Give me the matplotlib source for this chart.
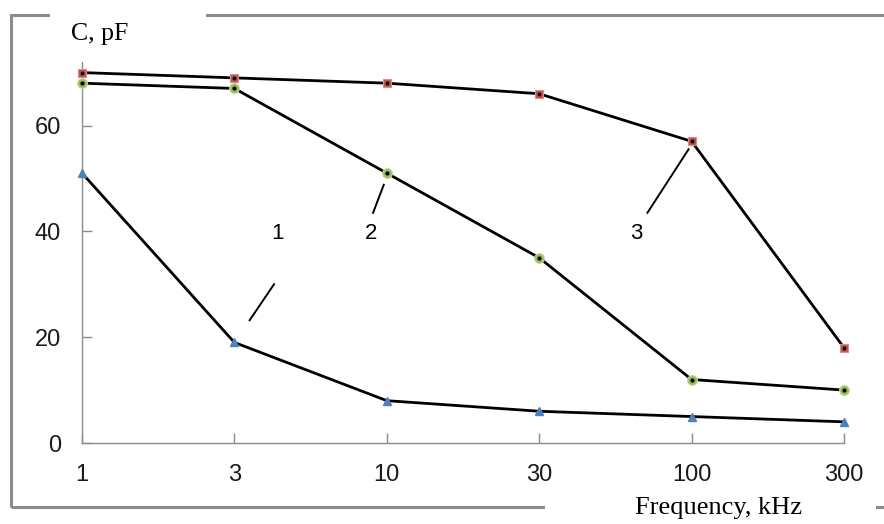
import numpy as np
import matplotlib.pyplot as plt
from matplotlib.patches import Rectangle

freq_labels = ["1", "3", "10", "30", "100", "300"]
curve1 = [51, 19, 8, 6, 5, 4]
curve2 = [68, 67, 51, 35, 12, 10]
curve3 = [70, 69, 68, 66, 57, 18]

fig = plt.figure(figsize=(8.84, 5.24), dpi=100)
W, H = 884, 524

# outer grey frame (runs off the right edge like the original)
fig.patches.append(Rectangle((11 / W, 1 - 507 / H), 1.0, (507 - 15) / H,
                             transform=fig.transFigure, fill=False,
                             edgecolor="#8c8c8c", linewidth=2.2, zorder=0))

ax = fig.add_axes([82 / W, 1 - 443 / H, (844 - 82) / W, (443 - 62) / H])
x = np.arange(len(freq_labels))

ax.plot(x, curve3, color="black", lw=2, zorder=2, clip_on=False)
ax.plot(x, curve2, color="black", lw=2, zorder=2, clip_on=False)
ax.plot(x, curve1, color="black", lw=2, zorder=2, clip_on=False)

ax.plot(x, curve3, ls="none", marker="s", ms=6, mfc="#c0504d", mec="#d98c8a",
        mew=0.8, zorder=3, clip_on=False)
ax.plot(x, curve3, ls="none", marker="o", ms=1.8, color="black", zorder=4, clip_on=False)
ax.plot(x, curve2, ls="none", marker="o", ms=7, mfc="#9bbb59", mec="#c3d69b",
        mew=0.8, zorder=3, clip_on=False)
ax.plot(x, curve2, ls="none", marker="o", ms=2, color="black", zorder=4, clip_on=False)
ax.plot(x, curve1, ls="none", marker="^", ms=6, mfc="#4f81bd", mec="#4f81bd",
        zorder=3, clip_on=False)

ax.set_xlim(0, 5)
ax.set_ylim(0, 72)
ax.set_xticks(x)
ax.set_xticklabels(freq_labels)
ax.set_yticks([0, 20, 40, 60])

for side in ["top", "right"]:
    ax.spines[side].set_visible(False)
for side in ["left", "bottom"]:
    ax.spines[side].set_color("#8c8c8c")
    ax.spines[side].set_linewidth(1.0)

ax.tick_params(axis="both", direction="in", length=7, width=1, color="#8c8c8c",
               labelsize=17, pad=15)
for lab in ax.get_xticklabels() + ax.get_yticklabels():
    lab.set_family("Liberation Sans")
    lab.set_color("#1a1a1a")

# curve numbers with leader lines
ax.text(1.28, 39.5, "1", fontsize=16, family="Liberation Sans", ha="center", va="center")
ax.plot([1.1, 1.26], [23.2, 30.0], color="black", lw=1.4)
ax.text(1.9, 39.5, "2", fontsize=16, family="Liberation Sans", ha="center", va="center")
ax.plot([1.91, 1.98], [43.5, 48.8], color="black", lw=1.4)
ax.text(3.64, 39.5, "3", fontsize=16, family="Liberation Sans", ha="center", va="center")
ax.plot([3.71, 3.98], [43.5, 55.5], color="black", lw=1.4)

# axis titles, white boxes break the grey frame
fig.patches.append(Rectangle((50 / W, 1 - 22 / H), 156 / W, 14 / H,
                             transform=fig.transFigure, facecolor="white",
                             edgecolor="none", zorder=1))
fig.text(71 / W, 1 - 34 / H, "C, pF", fontsize=18.5, family="Liberation Serif",
         ha="left", va="center")
fig.patches.append(Rectangle((545 / W, 1 - 515 / H), 331 / W, 16 / H,
                             transform=fig.transFigure, facecolor="white",
                             edgecolor="none", zorder=1))
fig.text(719 / W, 1 - 508 / H, "Frequency, kHz", fontsize=19, family="Liberation Serif",
         ha="center", va="center")

fig.savefig("out.png", dpi=100)
